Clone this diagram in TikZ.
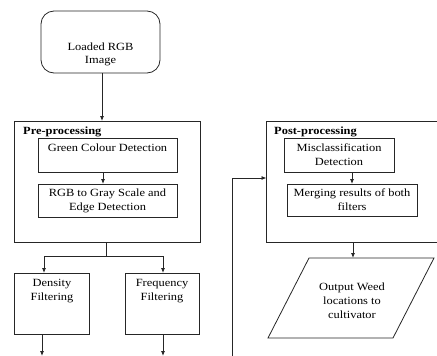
\documentclass[tikz,border=0pt]{standalone}
\usepackage{fontspec}
\setmainfont[FakeStretch=1.13]{Liberation Serif}
\usetikzlibrary{arrows.meta,calc}
\newcommand{\bxtext}[4]{\parbox[c][#2][t]{#1}{\centering\vspace*{#3}\strut #4\par}}
\begin{document}
\begin{tikzpicture}[x=1pt,y=-1pt,
  box/.style={draw=black!85, line width=0.8pt, inner sep=0pt, outer sep=0pt, font=\fontsize{11}{13.5}\selectfont},
  arr/.style={-{Latex[length=5pt,width=4pt]}, line width=0.8pt, draw=black!85},
  ln/.style={line width=0.8pt, draw=black!85},
  ttl/.style={font=\bfseries\fontsize{11}{13.5}\selectfont, inner sep=0pt, anchor=west},
  txt/.style={font=\fontsize{11}{14}\selectfont, align=center, inner sep=0pt}]
\useasboundingbox (0,0) rectangle (437,356);
\clip (0,0) rectangle (437,356);

% top
\node[box, rounded corners=13pt] (load) at (100.5,42) {\bxtext{119pt}{62pt}{30pt}{Loaded RGB\\Image}};

% pre-processing
\node[box, minimum width=186pt, minimum height=121pt] (pre) at (107,181.5) {};
\node[ttl] (pretitle) at (23,131.5) {Pre-processing};
\node[box] (green) at (107.5,155) {\bxtext{139pt}{34pt}{4.5pt}{Green Colour Detection}};
\node[box] (rgb) at (107.5,200.5) {\bxtext{139pt}{33pt}{3.5pt}{RGB to Gray Scale and\\Edge Detection}};

% filters
\node[box] (dens) at (52,303.5) {\bxtext{74.5pt}{61pt}{4.5pt}{Density\\Filtering}};
\node[box] (freq) at (162,303.5) {\bxtext{74pt}{61pt}{4.5pt}{Frequency\\Filtering}};

% post-processing
\node[box, minimum width=183pt, minimum height=121pt] (post) at (358,181.5) {};
\node[ttl] (posttitle) at (274,131.5) {Post-processing};
\node[box] (miscl) at (339,155) {\bxtext{110pt}{34pt}{4.5pt}{Misclassification\\Detection}};
\node[box] (merge) at (352,200) {\bxtext{130pt}{32pt}{3.5pt}{Merging results of both\\filters}};

% output parallelogram
\coordinate (p1) at (309,258);
\coordinate (p2) at (434,258);
\coordinate (p3) at (393,338);
\coordinate (p4) at (268,338);
\draw[ln, line join=miter] (p1) -- (p2) -- (p3) -- (p4) -- cycle;
\node[txt] (out) at (352,301) {Output Weed\\locations to\\cultivator};

% connectors
\draw[arr] ($(load.south)+(1.5,0)$) -- ($(load.south |- pre.north)+(1.5,0)$);
\draw[arr] ($(green.south)+(-4.5,0)$) -- ($(rgb.north)+(-4.5,0)$);
\draw[ln] ($(pre.south)+(-1,0)$) -- ++(0,14) coordinate (split);
\draw[arr] (split) -| ($(dens.north)+(-8,0)$);
\draw[arr] (split) -| ($(freq.north)+(1,0)$);
\coordinate (dend) at (42,356);
\coordinate (fend) at (163,356);
\draw[arr] (dens.south -| dend) -- (dend);
\draw[arr] (freq.south -| fend) -- (fend);
\coordinate (fb) at (232,360);
\draw[arr] (fb) |- ($(post.west)+(0,-3.5)$);
\draw[arr] (merge.north |- miscl.south) -- (merge.north);
\draw[arr] ($(merge.south |- post.south)+(1,0)$) -- ($(merge.south |- p1)+(1,0)$);
\end{tikzpicture}
\end{document}
